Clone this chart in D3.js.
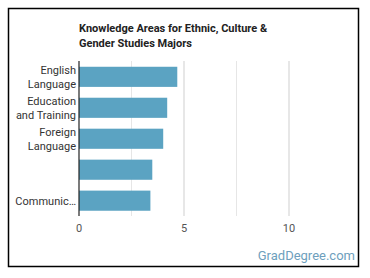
<!DOCTYPE html>
<html><head><meta charset="utf-8">
<script src="https://cdn.jsdelivr.net/npm/d3@7"></script>
<style>body{margin:0;background:#fff;font-family:Roboto,"Noto Sans",sans-serif;}</style>
</head><body>
<svg id="c" width="370" height="278"></svg>
<script>
const categories = [["English","Language"],["Education","and Training"],["Foreign","Language"],[""],["Communic…"]];
const values = [4.68, 4.2, 4.01, 3.49, 3.4];
const xTicks = [0, 5, 10];
const gridTicks = [2.5, 5, 7.5, 10];
const titleLines = ["Knowledge Areas for Ethnic, Culture &", "Gender Studies Majors"];

const svg = d3.select("#c");
svg.append("rect").attr("x",8.5).attr("y",8.5).attr("width",350).attr("height",258)
  .attr("fill","#fff").attr("stroke","#000").attr("stroke-width",1.5);

const x = d3.scaleLinear().domain([0,12.5]).range([79,341.5]);
const y = d3.scaleBand().domain(d3.range(values.length)).range([61.5,216]).paddingInner(0.35).paddingOuter(0.17);

svg.selectAll("line.grid").data(gridTicks).enter().append("line")
  .attr("x1",d=>x(d)).attr("x2",d=>x(d)).attr("y1",61).attr("y2",216)
  .attr("stroke",d=>d%5===0?"#cfcfcf":"#e6e6e6").attr("stroke-width",1);

svg.selectAll("rect.bar").data(values).enter().append("rect")
  .attr("x",x(0)).attr("y",(d,i)=>y(i)).attr("width",d=>x(d)-x(0)).attr("height",y.bandwidth())
  .attr("fill","#5ba3c2");

svg.append("line").attr("x1",x(0)).attr("x2",x(0)).attr("y1",61).attr("y2",216)
  .attr("stroke","#222").attr("stroke-width",1.2);

svg.selectAll("text.xt").data(xTicks).enter().append("text")
  .attr("x",d=>x(d)).attr("y",232).attr("text-anchor","middle")
  .attr("font-size",11).attr("fill","#555").text(d=>d);

categories.forEach((lines,i)=>{
  const cy = y(i)+y.bandwidth()/2;
  const lh = 14;
  const t = svg.append("text").attr("text-anchor","end").attr("font-size",11).attr("fill","#333");
  lines.forEach((l,j)=>{
    t.append("tspan").attr("x",76).attr("y",cy + (j-(lines.length-1)/2)*lh + 4).text(l);
  });
});

const tt = svg.append("text").attr("font-size",11).attr("font-weight","bold").attr("fill","#222");
titleLines.forEach((l,j)=>tt.append("tspan").attr("x",79).attr("y",32+j*14.5).text(l));

svg.append("text").attr("x",355).attr("y",260).attr("text-anchor","end")
  .attr("font-size",13).attr("fill","#6e9fbd").text("GradDegree.com");
</script>
</body></html>
